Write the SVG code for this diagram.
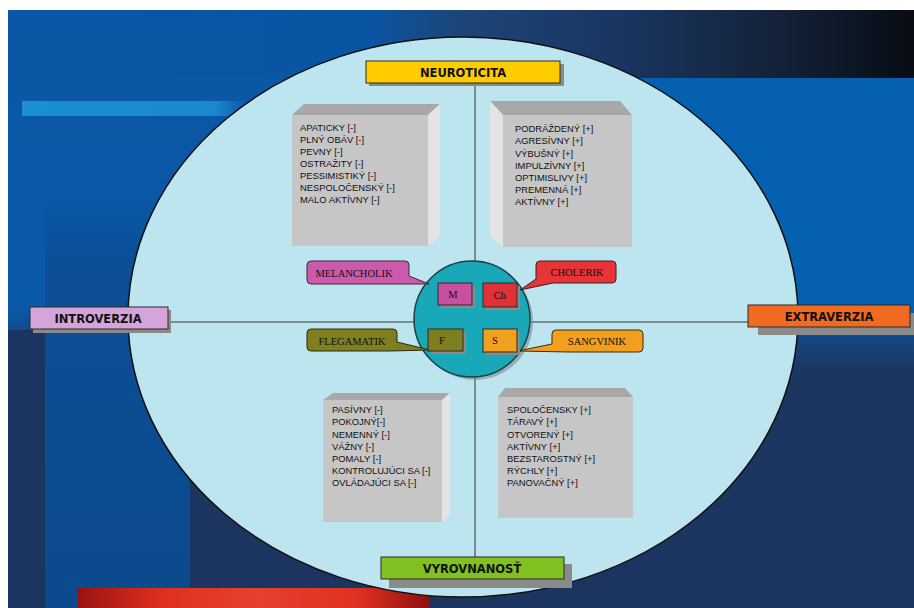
<svg xmlns="http://www.w3.org/2000/svg" width="914" height="608" viewBox="0 0 914 608">
<defs>
<linearGradient id="bgV" x1="0" y1="0" x2="0" y2="1">
<stop offset="0" stop-color="#0a57a6"/>
<stop offset="0.5" stop-color="#0a58a8"/>
<stop offset="0.6" stop-color="#1b3761"/>
<stop offset="1" stop-color="#1b3560"/>
</linearGradient>
<linearGradient id="topBand" x1="0" y1="0" x2="1" y2="0">
<stop offset="0" stop-color="#0a57a6"/>
<stop offset="0.4" stop-color="#0a55a2"/>
<stop offset="0.5" stop-color="#1d4577"/>
<stop offset="0.68" stop-color="#1a3560"/>
<stop offset="0.85" stop-color="#132238"/>
<stop offset="1" stop-color="#080c14"/>
</linearGradient>
<linearGradient id="col" x1="0" y1="0" x2="0" y2="1">
<stop offset="0" stop-color="#0b4f96" stop-opacity="0"/>
<stop offset="0.15" stop-color="#0b4f96"/>
<stop offset="1" stop-color="#0b4a8c"/>
</linearGradient>
<linearGradient id="bar" x1="0" y1="0" x2="1" y2="0">
<stop offset="0" stop-color="#1a8fd5"/>
<stop offset="0.85" stop-color="#1a8ad0"/>
<stop offset="1" stop-color="#1a8ad0" stop-opacity="0"/>
</linearGradient>
<linearGradient id="red" x1="0" y1="0" x2="1" y2="0">
<stop offset="0" stop-color="#9a1212"/>
<stop offset="0.25" stop-color="#e03020"/>
<stop offset="0.5" stop-color="#e8402e"/>
<stop offset="0.8" stop-color="#e03020"/>
<stop offset="1" stop-color="#8e1010"/>
</linearGradient>
<style>
.lbl{font-family:"DejaVu Sans",Verdana,sans-serif;font-weight:bold;font-size:11.5px;fill:#111;text-anchor:middle}
.lst{font-family:"Liberation Sans",Arial,sans-serif;font-size:9.4px;fill:#111}
.cal{font-family:"Liberation Serif","Times New Roman",serif;font-size:10.5px;fill:#111;text-anchor:middle}
.shadow{fill:#8a8a8a}
.edge{stroke:#2a2a2a;stroke-width:1}
.front{fill:#c6c6c6}
.top{fill:#a8a8a8}
.side{fill:#e4e4e4}
.axis{stroke:#333;stroke-width:1;fill:none}
</style>
</defs>
<rect x="0" y="0" width="914" height="608" fill="#ffffff"/>
<g id="background">
<rect x="8" y="10" width="906" height="598" fill="url(#bgV)"/>
<rect x="8" y="330" width="37" height="278" fill="#1b3560"/>
<rect x="45" y="200" width="145" height="408" fill="url(#col)"/>
<rect x="640" y="78" width="274" height="255" fill="#0660b0"/>
<rect x="8" y="10" width="906" height="68" fill="url(#topBand)"/>
<rect x="22" y="101" width="225" height="15" fill="url(#bar)"/>
<rect x="77" y="588" width="352" height="20" fill="url(#red)"/>
</g>
<ellipse id="ellipse" cx="463" cy="317" rx="335" ry="280" fill="#bde5ef" stroke="#111" stroke-width="1.5"/>
<g id="connectors">
<line class="axis" x1="475" y1="83" x2="475" y2="557"/>
<line class="axis" x1="168" y1="322" x2="749" y2="322"/>
</g>
<g id="box-tl">
<polygon class="top" points="292,115 304,104 440,104 428,115"/>
<polygon class="side" points="428,115 440,104 440,236 428,246"/>
<rect class="front" x="292" y="115" width="136" height="131"/>
<text class="lst" x="300" y="131">APATICKY [-]</text>
<text class="lst" x="300" y="143">PLNÝ OBÁV [-]</text>
<text class="lst" x="300" y="155">PEVNY [-]</text>
<text class="lst" x="300" y="167">OSTRAŽITY [-]</text>
<text class="lst" x="300" y="179">PESSIMISTIKÝ [-]</text>
<text class="lst" x="300" y="191">NESPOLOČENSKÝ [-]</text>
<text class="lst" x="300" y="203">MALO AKTÍVNY [-]</text>
</g>
<g id="box-tr">
<polygon class="top" points="490,101 620,101 632,115 503,115"/>
<polygon class="side" points="490,101 503,115 503,247 490,236"/>
<rect class="front" x="503" y="115" width="129" height="132"/>
<text class="lst" x="515" y="132">PODRÁŽDENÝ [+]</text>
<text class="lst" x="515" y="144">AGRESÍVNY [+]</text>
<text class="lst" x="515" y="156.5">VÝBUŠNÝ [+]</text>
<text class="lst" x="515" y="168.5">IMPULZÍVNY [+]</text>
<text class="lst" x="515" y="180.5">OPTIMISLIVY [+]</text>
<text class="lst" x="515" y="193">PREMENNÁ [+]</text>
<text class="lst" x="515" y="205">AKTÍVNY [+]</text>
</g>
<g id="box-bl">
<polygon class="top" points="323,400 333,393 450,393 442,400"/>
<polygon class="side" points="442,400 450,393 450,515 442,522"/>
<rect class="front" x="323" y="400" width="119" height="122"/>
<text class="lst" x="332" y="413">PASÍVNY [-]</text>
<text class="lst" x="332" y="425">POKOJNÝ[-]</text>
<text class="lst" x="332" y="437.5">NEMENNÝ [-]</text>
<text class="lst" x="332" y="449.5">VÁŽNY [-]</text>
<text class="lst" x="332" y="461.5">POMALY [-]</text>
<text class="lst" x="332" y="474">KONTROLUJÚCI SA [-]</text>
<text class="lst" x="332" y="486">OVLÁDAJÚCI SA [-]</text>
</g>
<g id="box-br">
<polygon class="top" points="498,397 505,388 625,388 633,397"/>
<rect class="front" x="498" y="397" width="135" height="121"/>
<text class="lst" x="507" y="413">SPOLOČENSKY [+]</text>
<text class="lst" x="507" y="425">TÁRAVÝ [+]</text>
<text class="lst" x="507" y="437.5">OTVORENÝ [+]</text>
<text class="lst" x="507" y="449.5">AKTÍVNY [+]</text>
<text class="lst" x="507" y="461.5">BEZSTAROSTNÝ [+]</text>
<text class="lst" x="507" y="474">RÝCHLY [+]</text>
<text class="lst" x="507" y="486">PANOVAČNÝ [+]</text>
</g>
<g id="neuroticita">
<rect class="shadow" x="369" y="64" width="195" height="22"/>
<rect x="366" y="61" width="194" height="22" fill="#ffcc00" class="edge"/>
<text class="lbl" x="463" y="76.5">NEUROTICITA</text>
</g>
<g id="vyrovnanost">
<rect class="shadow" x="389" y="564" width="183" height="24"/>
<rect x="381" y="557" width="183" height="22" fill="#80c020" class="edge"/>
<text class="lbl" x="472" y="572.5">VYROVNANOSŤ</text>
</g>
<g id="introverzia">
<rect class="shadow" x="33" y="310" width="138" height="23"/>
<rect x="30" y="307" width="138" height="22" fill="#d4a4da" class="edge"/>
<text class="lbl" x="98" y="322.5">INTROVERZIA</text>
</g>
<g id="extraverzia">
<rect class="shadow" x="758" y="313" width="156" height="22"/>
<rect x="748" y="305" width="162" height="22" fill="#f06a20" class="edge"/>
<text class="lbl" x="829" y="320.5">EXTRAVERZIA</text>
</g>
<g id="center">
<circle cx="475" cy="322" r="58" fill="#7a8a90" opacity="0.6"/>
<circle cx="472" cy="319" r="58" fill="#18a8b8" stroke="#1e3e4a" stroke-width="1.5"/>
</g>
<g id="melancholik">
<path d="M311,261 H405 Q409,261 409,265 V276 L429,284 L395,284 H311 Q307,284 307,280 V265 Q307,261 311,261 Z" fill="#cc5aac" stroke="#3a2a35" stroke-width="1"/>
<text class="cal" x="354" y="276.5">MELANCHOLIK</text>
</g>
<g id="cholerik">
<path d="M540,261 H612 Q616,261 616,265 V279 Q616,283 612,283 H553 L520,290 L536,279 V265 Q536,261 540,261 Z" fill="#e63438" stroke="#3a2020" stroke-width="1"/>
<text class="cal" x="577" y="276">CHOLERIK</text>
</g>
<g id="flegamatik">
<path d="M311,329 H393 Q397,329 397,333 V342 L430,350 L390,351 H311 Q307,351 307,347 V333 Q307,329 311,329 Z" fill="#807f20" stroke="#2a2a10" stroke-width="1"/>
<text class="cal" x="352" y="345">FLEGAMATIK</text>
</g>
<g id="sangvinik">
<path d="M556,330 H639 Q643,330 643,334 V348 Q643,352 639,352 H570 L518,351 L552,344 V334 Q552,330 556,330 Z" fill="#f29e1e" stroke="#3a2a10" stroke-width="1"/>
<text class="cal" x="597" y="345">SANGVINIK</text>
</g>
<g id="sq-m">
<rect class="shadow" x="441" y="286" width="34" height="22"/>
<rect x="438" y="283" width="34" height="22" fill="#c8509f" class="edge"/>
<text class="cal" x="453" y="297.5">M</text>
</g>
<g id="sq-ch">
<rect class="shadow" x="486" y="286" width="34" height="24"/>
<rect x="483" y="283" width="34" height="24" fill="#e03038" class="edge"/>
<text class="cal" x="500" y="299">Ch</text>
</g>
<g id="sq-f">
<rect class="shadow" x="431" y="332" width="35" height="22"/>
<rect x="428" y="329" width="35" height="22" fill="#807f20" class="edge"/>
<text class="cal" x="442" y="343.5">F</text>
</g>
<g id="sq-s">
<rect class="shadow" x="486" y="332" width="34" height="23"/>
<rect x="483" y="329" width="34" height="23" fill="#f2a020" class="edge"/>
<text class="cal" x="495" y="344">S</text>
</g>
</svg>
